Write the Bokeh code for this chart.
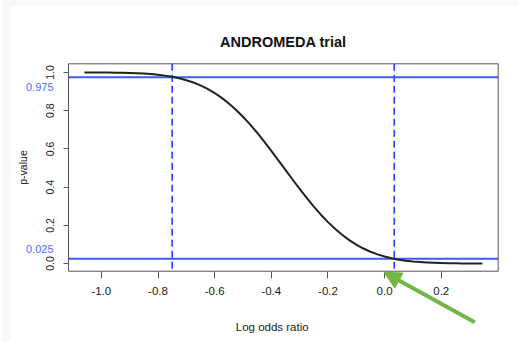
import math
from bokeh.plotting import figure
from bokeh.models import (Range1d, FixedTicker, NumeralTickFormatter, Label, LinearAxis,
                          Arrow, NormalHead)
from bokeh.embed import file_html
from bokeh.resources import INLINE

# ---- data ----
log_or = [-1.06, -1.025, -1.00, -0.975, -0.95, -0.925, -0.90, -0.875, -0.85, -0.825,
          -0.80, -0.775, -0.75, -0.725, -0.70, -0.675, -0.65, -0.625, -0.60, -0.575,
          -0.55, -0.525, -0.50, -0.475, -0.45, -0.425, -0.40, -0.375, -0.35, -0.325,
          -0.30, -0.275, -0.25, -0.225, -0.20, -0.175, -0.15, -0.125, -0.10, -0.075,
          -0.05, -0.025, 0.00, 0.025, 0.05, 0.075, 0.10, 0.125, 0.15, 0.175,
          0.20, 0.225, 0.25, 0.275, 0.30, 0.325, 0.345]
p_value = [0.9998, 0.9996, 0.9994, 0.9991, 0.9987, 0.9980, 0.9970, 0.9957, 0.9938, 0.9912,
           0.9877, 0.9831, 0.9770, 0.9692, 0.9593, 0.9470, 0.9319, 0.9137, 0.8920, 0.8667,
           0.8377, 0.8048, 0.7680, 0.7278, 0.6844, 0.6382, 0.5898, 0.5402, 0.4900, 0.4396,
           0.3905, 0.3431, 0.2980, 0.2556, 0.2168, 0.1817, 0.1503, 0.1226, 0.0989, 0.0787,
           0.0618, 0.0478, 0.0365, 0.0275, 0.0204, 0.0149, 0.0108, 0.0077, 0.0054, 0.0037,
           0.0025, 0.0017, 0.0011, 0.0007, 0.0005, 0.0003, 0.0002]
ci_bounds = [-0.75, 0.034]
p_levels = [0.975, 0.025]
p_level_labels = ["0.975", "0.025"]
x_ticks = [-1.0, -0.8, -0.6, -0.4, -0.2, 0.0, 0.2]
y_ticks = [0.0, 0.2, 0.4, 0.6, 0.8, 1.0]
title_text = "ANDROMEDA trial"
x_label = "Log odds ratio"
y_label = "p-value"

# ---- layout (pixels of the 519x342 canvas) ----
W, H = 519, 342
L, R, T, B = 68.0, 497.7, 63.3, 270.7          # plot box edges
x0, x1 = -1.116, 0.401                          # data limits of the box
y0, y1 = -0.04, 1.045
kx = (x1 - x0) / (R - L)
ky = (y1 - y0) / (B - T)
XL, XR = x0 - L * kx, x1 + (W - R) * kx
YT, YB = y1 + T * ky, y0 - (H - B) * ky


def sx(px):
    return XL + px * kx


def sy(py):
    return YT - py * ky


FONT = "Liberation Sans"
TXT = "#1a1a1a"
BOX = "#555555"
BLUE_H = "#3b5bff"
BLUE_V = "#1f3cff"
GREEN = "#72b743"

p = figure(width=W, height=H, x_range=Range1d(XL, XR), y_range=Range1d(YB, YT),
           output_backend="svg", toolbar_location=None, title=None,
           x_axis_location=None, y_axis_location=None, min_border=0)
p.min_border_left = p.min_border_right = p.min_border_top = p.min_border_bottom = 0
p.background_fill_color = "white"
p.border_fill_color = "white"
p.outline_line_color = None
p.xgrid.visible = False
p.ygrid.visible = False

# light grey page edges of the screenshot
p.quad(left=[XL], right=[sx(10)], bottom=[YB], top=[YT],
       fill_color="#f8f8f8", line_color=None)
p.quad(left=[sx(10)], right=[XR], bottom=[sy(5)], top=[YT],
       fill_color="#f8f8f8", line_color=None)

# plot box
p.quad(left=[x0], right=[x1], bottom=[y0], top=[y1], fill_color=None,
       line_color=BOX, line_width=1)

# axes drawn at the box edges
xaxis = LinearAxis(fixed_location=y0, ticker=FixedTicker(ticks=x_ticks),
                   formatter=NumeralTickFormatter(format="0.0"))
yaxis = LinearAxis(fixed_location=x0, ticker=FixedTicker(ticks=y_ticks),
                   formatter=NumeralTickFormatter(format="0.0"))
for ax in (xaxis, yaxis):
    ax.axis_line_color = None
    ax.major_tick_line_color = BOX
    ax.minor_tick_line_color = None
    ax.major_tick_in = 0
    ax.major_label_text_font = FONT
    ax.major_label_text_color = TXT
xaxis.major_tick_out = 7
xaxis.major_label_standoff = 9
xaxis.major_label_text_font_size = "11.5px"
yaxis.major_tick_out = 5
yaxis.major_label_standoff = 9
yaxis.major_label_text_font_size = "10.5px"
yaxis.major_label_orientation = "vertical"
p.add_layout(xaxis, "below")
p.add_layout(yaxis, "left")

# reference lines
p.segment(x0=ci_bounds, y0=[y1] * len(ci_bounds), x1=ci_bounds, y1=[y0] * len(ci_bounds),
          line_color=BLUE_V, line_width=1.6, line_dash="7 4")
p.segment(x0=[x0] * len(p_levels), y0=p_levels, x1=[x1] * len(p_levels), y1=p_levels,
          line_color=BLUE_H, line_width=2)

# p-value curve
p.line(log_or, p_value, line_color="#222222", line_width=2, line_join="round")

# blue level labels left of the axis
for lv, lab in zip(p_levels, p_level_labels):
    off = -10 if lv > 0.5 else 10
    p.add_layout(Label(x=x0, y=lv, text=lab, x_offset=-15, y_offset=off,
                       text_align="right", text_baseline="middle",
                       text_font=FONT, text_font_size="11px", text_color="#4a6cff"))

# title and axis labels
p.add_layout(Label(x=(x0 + x1) / 2, y=y1, y_offset=T - 41.7, text=title_text,
                   text_align="center", text_baseline="alphabetic", text_font=FONT,
                   text_font_size="14.5px", text_font_style="bold", text_color="#111111"))
p.add_layout(Label(x=sx(271.7), y=y0, y_offset=-(326.7 - B), text=x_label,
                   text_align="center", text_baseline="alphabetic", text_font=FONT,
                   text_font_size="11.5px", text_color=TXT))
p.add_layout(Label(x=x0, y=(y0 + y1) / 2, x_offset=-(L - 22.5), text=y_label,
                   angle=math.pi / 2, text_align="center", text_baseline="alphabetic",
                   text_font=FONT, text_font_size="10.5px", text_color=TXT))

# green arrow
p.add_layout(Arrow(x_start=sx(474.3), y_start=sy(321.7), x_end=sx(383.5), y_end=sy(271.8),
                   line_color=GREEN, line_width=4,
                   end=NormalHead(size=17, fill_color=GREEN, line_color=GREEN)))

open("out.html", "w").write(file_html(p, INLINE))
